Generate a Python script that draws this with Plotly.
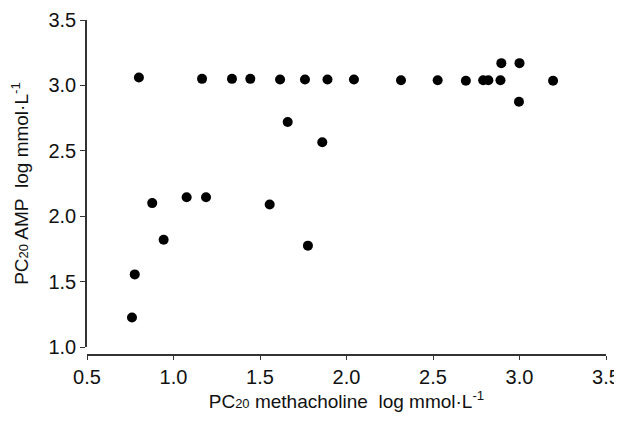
import plotly.graph_objects as go

pc20_methacholine = [0.80, 1.165, 1.338, 1.444, 1.616, 1.76, 1.89, 2.043, 2.315, 2.527,
                     2.69, 2.79, 2.82, 2.89, 3.194,
                     2.895, 3.0, 2.997,
                     1.66, 1.86, 0.877, 1.076, 1.188, 1.556, 0.943, 1.777, 0.776, 0.76]
pc20_amp = [3.06, 3.05, 3.05, 3.05, 3.045, 3.045, 3.045, 3.045, 3.04, 3.04,
            3.035, 3.04, 3.04, 3.04, 3.035,
            3.17, 3.17, 2.875,
            2.72, 2.565, 2.10, 2.145, 2.145, 2.09, 1.82, 1.775, 1.555, 1.225]

x_ticks = [0.5, 1.0, 1.5, 2.0, 2.5, 3.0, 3.5]
y_ticks = [1.0, 1.5, 2.0, 2.5, 3.0, 3.5]

font_family = "Liberation Sans, Arial, sans-serif"

fig = go.Figure()
fig.add_trace(go.Scatter(
    x=pc20_methacholine, y=pc20_amp, mode="markers",
    marker=dict(color="black", size=10),
    showlegend=False, hoverinfo="skip",
))

# page has an 8px body margin
W, H = 614, 413
ml, mr, mt, mb = 79, 16, 12, 66
plot_h = H - mt - mb
ydom_bottom = 8 / plot_h

fig.update_layout(
    width=W, height=H,
    margin=dict(l=ml, r=mr, t=mt, b=mb, autoexpand=False),
    paper_bgcolor="white", plot_bgcolor="white",
    font=dict(family=font_family, size=19, color="#111"),
    xaxis=dict(
        range=[0.5, 3.5], tickvals=x_ticks, ticktext=[f"{v:.1f}" for v in x_ticks],
        showgrid=False, zeroline=False, showline=True, linecolor="#333", linewidth=1.5,
        ticks="outside", ticklen=4, tickwidth=1.2, tickcolor="#333",
        anchor="free", position=0, automargin=False,
        title=dict(text="PC<span style='font-size:13px'>20</span> methacholine&nbsp; log mmol·L<sup>-1</sup>",
                   font=dict(size=19), standoff=4),
        tickfont=dict(size=20),
    ),
    yaxis=dict(
        range=[1.0, 3.5], tickvals=y_ticks, ticktext=[f"{v:.1f}" for v in y_ticks],
        domain=[ydom_bottom, 1], automargin=False,
        showgrid=False, zeroline=False, showline=True, linecolor="#333", linewidth=1.5,
        ticks="outside", ticklen=5, tickwidth=1.2, tickcolor="#333",
        title=dict(text="PC<span style='font-size:13px'>20</span> AMP&nbsp; log mmol·L<sup>-1</sup>",
                   font=dict(size=19), standoff=18),
        tickfont=dict(size=20),
    ),
)

fig.write_html("out.html")
